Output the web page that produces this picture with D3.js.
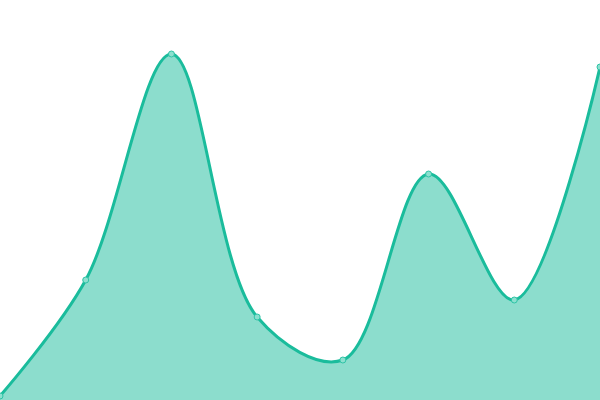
<!DOCTYPE html>
<html><head><meta charset="utf-8">
<script src="https://cdn.jsdelivr.net/npm/d3@7"></script>
<style>html,body{margin:0;padding:0;background:#fff;overflow:hidden}</style>
</head><body>
<svg id="chart" width="600" height="400"></svg>
<script>
const categories = [0, 1, 2, 3, 4, 5, 6, 7];
const values = [1, 30, 86.5, 20.75, 10, 56.5, 25, 83.25];
const yDomain = [0, 100];

const W = 600, H = 400;
const svg = d3.select("#chart");
const x = d3.scaleLinear().domain(d3.extent(categories)).range([0, W]);
const y = d3.scaleLinear().domain(yDomain).range([H, 0]);
const data = categories.map((c, i) => ({c, v: values[i]}));
const curve = d3.curveCatmullRom;

svg.append("path").datum(data)
  .attr("d", d3.area().x(d => x(d.c)).y0(y(0)).y1(d => y(d.v)).curve(curve))
  .attr("fill", "#1abc9c").attr("fill-opacity", 0.5);
svg.append("path").datum(data)
  .attr("d", d3.line().x(d => x(d.c)).y(d => y(d.v)).curve(curve))
  .attr("fill", "none").attr("stroke", "#1abc9c").attr("stroke-width", 3);
svg.selectAll("circle").data(data).join("circle")
  .attr("cx", d => x(d.c)).attr("cy", d => y(d.v)).attr("r", 3)
  .attr("fill", "#8ce0cf").attr("stroke", "#2ec4a6").attr("stroke-width", 1);
</script>
</body></html>
